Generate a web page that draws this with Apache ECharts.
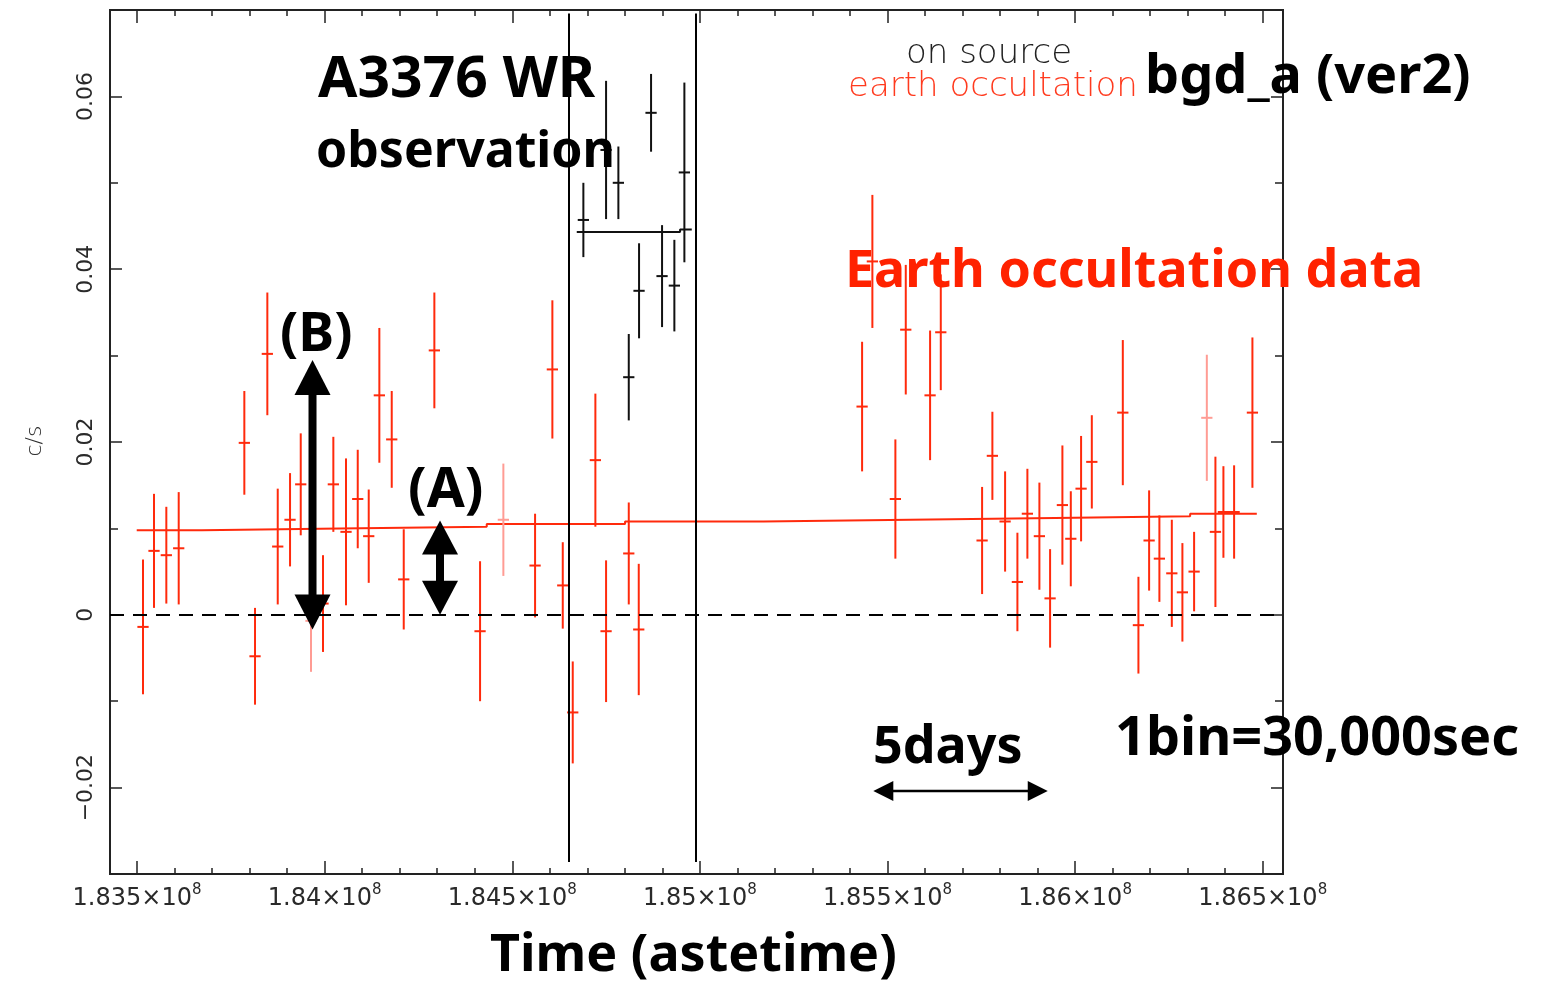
<!DOCTYPE html>
<html>
<head>
<meta charset="utf-8">
<title>bgd_a earth occultation light curve</title>
<script src="https://cdn.jsdelivr.net/npm/echarts@6.0.0/dist/echarts.min.js"></script>
<style>
  html, body { margin: 0; padding: 0; background: #fff; }
  #chart { width: 1541px; height: 985px; }
</style>
</head>
<body>
<div id="chart"></div>
<script>
// ---- data ----
// earth occultation bins (astetime, c/s, 1 sigma, faint flag)
const occT = [
  183516000, 183545300, 183578100, 183611100, 183786000, 183814500, 183847300, 183875000,
  183907800, 183936300, 183963700, 183995700, 184023200, 184057000, 184088200, 184117500,
  184145800, 184178800, 184210800, 184292400, 184414200, 184476300, 184560800, 184606900,
  184634600, 184661200, 184721500, 184750000, 184810500, 184837100,
  185432300, 185459700, 185521000, 185548700, 185613500, 185642000, 185752100, 185779500,
  185813400, 185846200, 185872800, 185904800, 185933300, 185966100, 185988500, 186015900,
  186044500, 186127100, 186168700, 186197200, 186224600, 186257700, 186285900, 186317100,
  186351000, 186373900, 186395200, 186423700, 186472500
];
const occRate = [
  -0.0014, 0.0074, 0.0069, 0.0077, 0.0199, -0.0048, 0.0302, 0.0079,
  0.0110, 0.0151, -0.0007, 0.0013, 0.0151, 0.0096, 0.0134, 0.0091,
  0.0254, 0.0203, 0.0041, 0.0306, -0.0019, 0.0110, 0.0057, 0.0284,
  0.0034, -0.0113, 0.0179, -0.0019, 0.0071, -0.0017,
  0.0241, 0.0409, 0.0134, 0.0330, 0.0254, 0.0327, 0.0086, 0.0184,
  0.0108, 0.0038, 0.0117, 0.0091, 0.0019, 0.0127, 0.0088, 0.0146,
  0.0177, 0.0234, -0.0012, 0.0086, 0.0065, 0.0048, 0.0026, 0.0050,
  0.0228, 0.0096, 0.0119, 0.0119, 0.0234
];
const occErr = [
  0.0078, 0.0066, 0.0056, 0.0065, 0.0060, 0.0056, 0.0071, 0.0067,
  0.0054, 0.0059, 0.0059, 0.0056, 0.0055, 0.0085, 0.0057, 0.0054,
  0.0078, 0.0056, 0.0058, 0.0067, 0.0081, 0.0065, 0.0060, 0.0080,
  0.0050, 0.0059, 0.0077, 0.0082, 0.0059, 0.0076,
  0.0075, 0.0077, 0.0069, 0.0075, 0.0075, 0.0067, 0.0062, 0.0051,
  0.0058, 0.0057, 0.0052, 0.0062, 0.0057, 0.0069, 0.0055, 0.0061,
  0.0054, 0.0084, 0.0056, 0.0058, 0.0050, 0.0062, 0.0057, 0.0046,
  0.0073, 0.0087, 0.0053, 0.0054, 0.0087
];
const occFaint = [
  0, 0, 0, 0, 0, 0, 0, 0,
  0, 0, 1, 0, 0, 0, 0, 0,
  0, 0, 0, 0, 0, 1, 0, 0,
  0, 0, 0, 0, 0, 0,
  0, 0, 0, 0, 0, 0, 0, 0,
  0, 0, 0, 0, 0, 0, 0, 0,
  0, 0, 0, 0, 0, 0, 0, 0,
  1, 0, 0, 0, 0
];

// on-source bins
const srcT = [184689500, 184750000, 184782800, 184810500, 184837900, 184869900, 184899200, 184932000, 184958700];
const srcRate = [0.0457, 0.0538, 0.0500, 0.0275, 0.0375, 0.0581, 0.0392, 0.0381, 0.0512];
const srcErr = [0.0043, 0.0080, 0.0042, 0.0050, 0.0055, 0.0045, 0.0059, 0.0053, 0.0104];

// model step lines (edges and level of each step)
const occStepT = [183499200, 183672400, 184041000, 184432000, 184800600, 185169200, 185560200, 185946700, 186306500, 186484200];
const occStepV = [0.0098, 0.0100, 0.0102, 0.0105, 0.0108, 0.0110, 0.0112, 0.0114, 0.0117];
const srcStepT = [184671900, 184947200, 184978400];
const srcStepV = [0.0443, 0.0446];

// observation window edges
const windowT = [184649500, 184989800];
const windowY = [-0.0286, 0.0696];

// annotation arrows: start / end in (astetime, c/s)
const arrowFrom = [[183967700, 0.0295], [184307500, 0.0109], [185462200, -0.0204]];
const arrowTo = [[183967700, -0.0017], [184307500, 0.0000], [185927000, -0.0204]];

// axis ticks
const xMajor = [183500000, 184000000, 184500000, 185000000, 185500000, 186000000, 186500000];
const yMajor = [-0.02, 0, 0.02, 0.04, 0.06];
const halfBin = 15000; // 1 bin = 30,000 sec

// ---- styles ----
const RED = '#ff2a0c';
const FAINT = '#ff9c94';
const INK = '#111';
const FRAME = '#222';
const arrowShaft = [8, 8, 2.5];
const arrowHeadLen = [35, 34, 20];
const arrowHeadW = [36, 36, 20];

const xMinor = [];
for (let v = 183500000; v <= 186500000; v += 100000) xMinor.push(v);
const yMinor = [];
for (let i = -3; i <= 7; i++) yMinor.push(Math.round(i * 100) / 10000);

function timeLabel(v) {
  return '{m|' + (Math.round(v / 1e5) / 1000) + '×10}{e|8}';
}

function rateLabel(v) {
  if (Math.abs(v) < 1e-9) return '0';
  return (v < 0 ? '\u22120' : '0') + Math.abs(v).toFixed(2).slice(1);
}

// error bar cross: vertical 1 sigma, horizontal bin width
function errorBarItem(color) {
  return function (params, api) {
    const t = api.value(0), y = api.value(1), e = api.value(2);
    const stroke = api.value(3) ? FAINT : color;
    const top = api.coord([t, y + e]);
    const bot = api.coord([t, y - e]);
    const l = api.coord([t - halfBin, y]);
    const r = api.coord([t + halfBin, y]);
    return {
      type: 'group',
      children: [
        { type: 'line', shape: { x1: top[0], y1: top[1], x2: bot[0], y2: bot[1] }, style: { stroke: stroke, lineWidth: 2 } },
        { type: 'line', shape: { x1: l[0], y1: l[1], x2: r[0], y2: r[1] }, style: { stroke: stroke, lineWidth: 2 } }
      ]
    };
  };
}

function arrowItem(params, api) {
  const i = params.dataIndex;
  const p1 = api.coord([api.value(0), api.value(1)]);
  const p2 = api.coord([api.value(2), api.value(3)]);
  const dx = p2[0] - p1[0], dy = p2[1] - p1[1];
  const len = Math.sqrt(dx * dx + dy * dy) || 1;
  const ux = dx / len, uy = dy / len;
  const nx = -uy, ny = ux;
  const hl = arrowHeadLen[i], hw = arrowHeadW[i] / 2;
  const head = (tip, sgn) => {
    const bx = tip[0] + sgn * ux * hl, by = tip[1] + sgn * uy * hl;
    return [[tip[0], tip[1]], [bx + nx * hw, by + ny * hw], [bx - nx * hw, by - ny * hw]];
  };
  return {
    type: 'group',
    children: [
      {
        type: 'line',
        shape: { x1: p1[0] + ux * hl * 0.9, y1: p1[1] + uy * hl * 0.9, x2: p2[0] - ux * hl * 0.9, y2: p2[1] - uy * hl * 0.9 },
        style: { stroke: '#000', lineWidth: arrowShaft[i] }
      },
      { type: 'polygon', shape: { points: head(p1, 1) }, style: { fill: '#000' } },
      { type: 'polygon', shape: { points: head(p2, -1) }, style: { fill: '#000' } }
    ]
  };
}

function stepData(edges, levels) {
  const out = levels.map((v, i) => [edges[i], v]);
  out.push([edges[edges.length - 1], levels[levels.length - 1]]);
  return out;
}

const tickFont = 'DejaVu Sans';
const handFont = '"Noto Sans", sans-serif';

function xAxisDef(position, ticks, len, labels) {
  return {
    type: 'value', position: position, min: 183428000, max: 186554000,
    axisLine: { show: true, onZero: false, lineStyle: { color: FRAME, width: 2 } },
    axisTick: { show: true, inside: true, length: len, customValues: ticks, lineStyle: { color: FRAME, width: 1.5 } },
    axisLabel: labels ? {
      show: true, customValues: xMajor, margin: 9, formatter: timeLabel,
      rich: {
        m: { fontFamily: tickFont, fontSize: 24, color: '#2a2a2a', lineHeight: 28, verticalAlign: 'bottom' },
        e: { fontFamily: tickFont, fontSize: 15, color: '#2a2a2a', lineHeight: 16, verticalAlign: 'top' }
      }
    } : { show: false },
    splitLine: { show: false }
  };
}

function yAxisDef(position, ticks, len, labels) {
  return {
    type: 'value', position: position, min: -0.03, max: 0.07,
    axisLine: { show: true, onZero: false, lineStyle: { color: FRAME, width: 2 } },
    axisTick: { show: true, inside: true, length: len, customValues: ticks, lineStyle: { color: FRAME, width: 1.5 } },
    axisLabel: labels ? {
      show: true, customValues: yMajor, rotate: 90, margin: 13, formatter: rateLabel,
      fontFamily: tickFont, fontSize: 22, color: '#2a2a2a'
    } : { show: false },
    splitLine: { show: false }
  };
}

function note(text, x, y, size, color, weight, family, rotation) {
  return {
    type: 'text', x: x, y: y, rotation: rotation || 0, z: 50,
    style: {
      text: text, fill: color,
      font: weight + ' ' + size + 'px ' + family,
      textAlign: rotation ? 'center' : 'left', textVerticalAlign: 'middle',
      align: rotation ? 'center' : 'left', verticalAlign: 'middle'
    }
  };
}

const chart = echarts.init(document.getElementById('chart'));

chart.setOption({
  animation: false,
  backgroundColor: '#fff',
  grid: { left: 110, top: 10, width: 1173, height: 864 },
  xAxis: [
    xAxisDef('bottom', xMajor, 13, true),
    xAxisDef('bottom', xMinor, 6, false),
    xAxisDef('top', xMajor, 13, false),
    xAxisDef('top', xMinor, 6, false)
  ],
  yAxis: [
    yAxisDef('left', yMajor, 12, true),
    yAxisDef('left', yMinor, 8, false),
    yAxisDef('right', yMajor, 12, false),
    yAxisDef('right', yMinor, 8, false)
  ],
  series: [
    {
      name: 'earth occultation model',
      type: 'line', step: 'end', showSymbol: false, z: 3,
      data: stepData(occStepT, occStepV),
      lineStyle: { color: RED, width: 2 },
      markLine: {
        silent: true, symbol: ['none', 'none'], label: { show: false },
        lineStyle: { color: '#000', width: 2, type: [14, 9] },
        data: [{ yAxis: 0 }]
      }
    },
    {
      name: 'on source model',
      type: 'line', step: 'end', showSymbol: false, z: 3,
      data: stepData(srcStepT, srcStepV),
      lineStyle: { color: INK, width: 2 },
      markLine: {
        silent: true, symbol: ['none', 'none'], label: { show: false },
        lineStyle: { color: '#000', width: 2, type: 'solid' },
        data: windowT.map(t => [{ coord: [t, windowY[0]] }, { coord: [t, windowY[1]] }])
      }
    },
    {
      name: 'earth occultation',
      type: 'custom', clip: true, z: 4,
      renderItem: errorBarItem(RED),
      encode: { x: 0, y: 1 },
      data: occT.map((t, i) => [t, occRate[i], occErr[i], occFaint[i]])
    },
    {
      name: 'on source',
      type: 'custom', clip: true, z: 4,
      renderItem: errorBarItem(INK),
      encode: { x: 0, y: 1 },
      data: srcT.map((t, i) => [t, srcRate[i], srcErr[i], 0])
    },
    {
      name: 'arrows',
      type: 'custom', z: 10, silent: true,
      renderItem: arrowItem,
      encode: { x: [0, 2], y: [1, 3] },
      data: arrowFrom.map((p, i) => [p[0], p[1], arrowTo[i][0], arrowTo[i][1]])
    }
  ],
  graphic: [
    note('on source', 906, 54, 34, '#222', 200, tickFont),
    note('earth occultation', 848, 87, 34, '#ff3a1e', 200, tickFont),
    note('c/s', 35, 441, 22, '#2a2a2a', 200, tickFont, Math.PI / 2),
    note('A3376 WR', 318, 81, 57, '#000', 'bold', handFont),
    note('observation', 316, 153, 50, '#000', 'bold', handFont),
    note('bgd_a (ver2)', 1145, 78, 54, '#000', 'bold', handFont),
    note('Earth occultation data', 845, 272, 52, '#ff2200', 'bold', handFont),
    note('(B)', 280, 336, 54, '#000', 'bold', handFont),
    note('(A)', 408, 491, 55, '#000', 'bold', handFont),
    note('5days', 873, 748, 52, '#000', 'bold', handFont),
    note('1bin=30,000sec', 1115, 740, 54, '#000', 'bold', handFont),
    note('Time (astetime)', 490, 956, 52, '#000', 'bold', handFont)
  ]
});
</script>
</body>
</html>
